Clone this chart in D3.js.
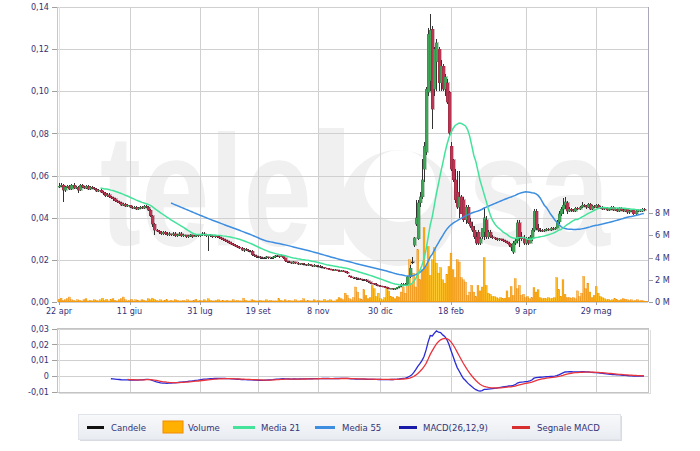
<!DOCTYPE html>
<html><head><meta charset="utf-8">
<script src="https://cdn.jsdelivr.net/npm/d3@7/dist/d3.min.js"></script>
<style>
body{margin:0;background:#fff;}
svg{display:block;font-family:"DejaVu Sans Condensed","DejaVu Sans",sans-serif;font-stretch:condensed;}
</style></head><body>
<svg id="chart" width="700" height="451"></svg>
<script>
// ---- data (session index based) ----
const dateLabels = ["22 apr","11 giu","31 lug","19 set","8 nov","30 dic","18 feb","9 apr","29 mag"];
const dateIndex  = [0,34,68,96,125,155,189,225,259];
const priceTicks = [0,0.02,0.04,0.06,0.08,0.10,0.12,0.14];
const volumeTicks = [0,2,4,6,8];
const macdTicks = [-0.01,0,0.01,0.02,0.03];
const legendLabels = ["Candele","Volume","Media 21","Media 55","MACD(26,12,9)","Segnale MACD"];

const open = [
.0545,.055,.0555,.053,.0545,.055,.0535,.0555,.054,.0545,
.053,.0555,.0545,.054,.055,.0535,.0545,.054,.0535,.0525,
.053,.052,.0515,.0505,.051,.050,.0495,.049,.048,.0475,
.047,.046,.0465,.0455,.046,.045,.0445,.045,.044,.0445,
.045,.0445,.0455,.045,.0435,.041,.037,.034,.0335,.033,
.0325,.033,.0325,.032,.0325,.032,.0325,.0315,.032,.0325,
.0315,.032,.031,.0315,.032,.031,.0315,.032,.0315,.032,
.0325,.032,.0315,.032,.0315,.031,.0315,.031,.0305,.030,
.0295,.029,.0285,.028,.0275,.027,.0265,.026,.0255,.0245,
.025,.0245,.024,.024,.0225,.022,.0215,.0215,.021,.021,
.021,.0215,.021,.021,.0215,.022,.022,.0215,.022,.021,
.0195,.019,.019,.0185,.019,.0185,.018,.0185,.018,.018,
.0175,.018,.0175,.017,.0175,.017,.017,.0165,.0165,.016,
.0158,.0155,.0152,.015,.0152,.0148,.0145,.0148,.0145,.0142,
.0125,.012,.0115,.0115,.011,.011,.0108,.0105,.0105,.010,
.0095,.009,.0088,.0085,.008,.0078,.0075,.0072,.007,.0065,
.0063,.0065,.006,.0065,.007,.0075,.0085,.008,.0085,.012,
.019,.027,.037,.030,.047,.050,.063,.071,.0995,.105,
.1295,.101,.114,.12,.104,.112,.101,.104,.0995,.074,
.0676,.058,.052,.045,.050,.0486,.039,.045,.038,.036,
.034,.031,.033,.028,.031,.033,.039,.031,.033,.031,
.0305,.030,.0295,.030,.0295,.029,.0285,.028,.027,.0235,
.028,.029,.0376,.031,.030,.028,.030,.028,.030,.034,
.043,.035,.034,.034,.0335,.034,.0345,.034,.035,.0345,
.035,.038,.042,.044,.046,.047,.043,.044,.0435,.043,
.0445,.044,.045,.046,.0455,.045,.0465,.044,.0455,.045,
.046,.0445,.045,.044,.0445,.0435,.044,.045,.0435,.044,
.043,.0445,.0435,.043,.044,.0425,.043,.0435,.042,.043,
.0435,.043,.044];
const high = [
.0565,.0565,.056,.055,.0555,.0555,.056,.0565,.055,.055,
.056,.056,.055,.0555,.0555,.055,.055,.0545,.054,.0535,
.0535,.0525,.052,.0515,.0515,.0505,.050,.0495,.0485,.048,
.0475,.047,.047,.0465,.046,.0455,.0455,.0455,.045,.0455,
.0455,.046,.046,.0455,.044,.0415,.0375,.0345,.034,.0335,
.0335,.0335,.033,.033,.0325,.033,.033,.0325,.033,.033,
.0325,.032,.032,.0325,.032,.032,.0325,.0325,.0325,.033,
.033,.0325,.0325,.0325,.032,.032,.032,.0315,.031,.0305,
.030,.0295,.029,.0285,.028,.0275,.027,.0265,.026,.0255,
.0255,.025,.0245,.0245,.023,.0225,.022,.022,.0215,.0215,
.022,.0215,.0215,.022,.0225,.0225,.022,.0225,.022,.021,
.0195,.0195,.019,.0195,.019,.019,.0185,.0185,.0185,.018,
.0185,.018,.0175,.018,.0175,.0175,.0175,.017,.0165,.0162,
.016,.0158,.0155,.0155,.0152,.015,.015,.015,.0147,.0145,
.013,.0122,.012,.0118,.0115,.0112,.011,.011,.0107,.0102,
.0097,.0092,.009,.0088,.0082,.008,.0078,.0075,.0072,.0068,
.0068,.0067,.0068,.0073,.0078,.0088,.0088,.009,.0125,.0175,
.0215,.031,.0486,.0486,.052,.068,.076,.102,.130,.1367,
.131,.121,.125,.121,.115,.113,.108,.106,.100,.076,
.068,.063,.062,.062,.051,.050,.046,.046,.040,.038,
.036,.033,.034,.031,.035,.0448,.041,.034,.034,.032,
.031,.0305,.0305,.030,.030,.0295,.029,.0285,.0275,.029,
.030,.039,.039,.033,.032,.031,.031,.032,.035,.044,
.044,.037,.035,.0345,.0345,.035,.035,.0355,.0355,.0355,
.039,.043,.045,.0495,.050,.048,.045,.0445,.044,.045,
.045,.0455,.0476,.0465,.046,.047,.047,.046,.046,.0465,
.0465,.0455,.0455,.045,.045,.0445,.0455,.0455,.0445,.0445,
.045,.045,.044,.0445,.0445,.0435,.044,.044,.0435,.044,
.044,.0445,.0445];
const low = [
.054,.0545,.0475,.052,.054,.053,.053,.0535,.0535,.0515,
.0525,.054,.0535,.0535,.053,.053,.0535,.053,.052,.052,
.0515,.051,.050,.050,.0495,.049,.048,.0475,.047,.0465,
.0455,.0455,.045,.045,.0445,.044,.044,.0435,.0435,.044,
.044,.044,.0445,.043,.0405,.0355,.032,.033,.0325,.032,
.032,.032,.0315,.0315,.0315,.0315,.031,.031,.0315,.031,
.031,.0305,.0305,.031,.0305,.031,.031,.031,.031,.0315,
.0315,.031,.024,.031,.0305,.0305,.0305,.030,.0295,.029,
.0285,.028,.0275,.027,.0265,.026,.0255,.025,.024,.0235,
.024,.0235,.0235,.022,.0215,.021,.021,.0205,.0205,.0205,
.0205,.0205,.0205,.0205,.021,.0215,.021,.0215,.0205,.019,
.0185,.0185,.018,.018,.018,.0175,.0175,.0175,.0175,.017,
.0172,.017,.0165,.0168,.0165,.0165,.016,.016,.0155,.0155,
.0152,.015,.0148,.0148,.0145,.0142,.0143,.0142,.014,.0135,
.0118,.0112,.011,.0106,.0105,.0104,.0102,.010,.0096,.0092,
.0087,.0085,.0082,.0077,.0075,.0072,.0069,.0066,.0062,.006,
.006,.0057,.0058,.0062,.0068,.0072,.0077,.0078,.0082,.0115,
.018,.026,.036,.0295,.045,.049,.057,.070,.098,.10,
.082,.098,.100,.100,.100,.10,.098,.094,.079,.062,
.057,.047,.044,.040,.042,.038,.037,.037,.035,.033,
.030,.027,.027,.027,.030,.0295,.030,.030,.0305,.030,
.0295,.029,.029,.029,.0285,.028,.0275,.026,.024,.023,
.027,.028,.026,.029,.027,.027,.027,.028,.029,.033,
.034,.033,.033,.033,.033,.0335,.0335,.0335,.034,.034,
.035,.037,.041,.042,.044,.042,.0425,.0425,.0425,.0425,
.0435,.0435,.0445,.045,.044,.0445,.0435,.0435,.0445,.0445,
.044,.044,.0435,.0435,.043,.043,.0435,.043,.043,.0425,
.0425,.043,.0425,.0425,.042,.042,.0425,.0415,.0415,.0425,
.0425,.0425,.043];
const close = [
.055,.0555,.053,.0545,.055,.0535,.0555,.054,.0545,.053,
.0555,.0545,.054,.055,.0535,.0545,.054,.0535,.0525,.053,
.052,.0515,.0505,.051,.050,.0495,.049,.048,.0475,.047,
.046,.0465,.0455,.046,.045,.0445,.045,.044,.0445,.045,
.0445,.0455,.045,.0435,.041,.037,.034,.0335,.033,.0325,
.033,.0325,.032,.0325,.032,.0325,.0315,.032,.0325,.0315,
.032,.031,.0315,.032,.031,.0315,.032,.0315,.032,.0325,
.032,.0315,.032,.0315,.031,.0315,.031,.0305,.030,.0295,
.029,.0285,.028,.0275,.027,.0265,.026,.0255,.0245,.025,
.0245,.024,.024,.0225,.022,.0215,.0215,.021,.021,.021,
.0215,.021,.021,.0215,.022,.022,.0215,.022,.021,.0195,
.019,.019,.0185,.019,.0185,.018,.0185,.018,.018,.0175,
.018,.0175,.017,.0175,.017,.017,.0165,.0165,.016,.0158,
.0155,.0152,.015,.0152,.0148,.0145,.0148,.0145,.0142,.014,
.012,.0115,.0115,.011,.011,.0108,.0105,.0105,.010,.0095,
.009,.0088,.0085,.008,.0078,.0075,.0072,.007,.0065,.0063,
.0065,.006,.0065,.007,.0075,.0085,.008,.0085,.012,.016,
.019,.0305,.040,.047,.050,.058,.074,.101,.127,.129,
.0914,.12,.123,.104,.112,.101,.107,.0947,.080,.063,
.058,.0486,.045,.050,.042,.039,.045,.0376,.036,.034,
.031,.028,.028,.030,.035,.040,.031,.033,.031,.0305,
.030,.0295,.030,.0295,.029,.0285,.028,.027,.026,.028,
.029,.0376,.031,.030,.028,.030,.028,.031,.034,.043,
.035,.034,.034,.0335,.034,.0345,.034,.035,.0345,.035,
.038,.042,.044,.046,.0475,.043,.044,.0435,.043,.0445,
.044,.045,.046,.0455,.045,.0465,.044,.0455,.045,.046,
.0445,.045,.044,.0445,.0435,.044,.045,.0435,.044,.043,
.0445,.0435,.043,.044,.0425,.043,.0435,.042,.043,.0435,
.043,.044,.0435];
// volume in millions
const volume = [
.25,.35,.15,.2,.3,.45,.2,.15,.1,.2,
.15,.1,.2,.3,.1,.15,.1,.2,.15,.1,
.2,.35,.15,.25,.1,.2,.3,.15,.1,.2,
.3,.45,.2,.1,.15,.25,.1,.2,.15,.1,
.2,.15,.1,.3,.2,.35,.25,.15,.1,.2,
.1,.15,.2,.1,.15,.1,.2,.15,.1,.1,
.15,.1,.2,.1,.1,.15,.25,.1,.15,.1,
.2,.1,.3,.15,.1,.1,.15,.2,.1,.15,
.1,.15,.1,.1,.2,.1,.15,.1,.1,.35,
.15,.1,.1,.2,.15,.1,.1,.15,.1,.1,
.2,.1,.15,.1,.1,.1,.3,.15,.1,.2,
.1,.15,.1,.1,.2,.1,.1,.15,.3,.1,
.15,.1,.1,.2,.1,.15,.1,.1,.25,.1,
.15,.2,.1,.1,.2,.4,.3,.2,.8,.6,
.3,.2,.4,1.35,.9,.3,.2,1.1,.6,.3,
.4,1.5,1.2,.5,.8,.3,.2,.4,1.3,1.0,
.5,.45,.3,.5,.45,.9,1.35,.8,2.1,3.8,
1.6,2.6,1.35,4.7,2.0,2.9,6.7,3.2,5.0,2.4,
3.8,4.9,3.5,2.6,3.1,2.0,1.7,2.5,3.2,4.4,
2.9,2.2,3.8,3.6,2.2,2.0,1.8,.6,.9,1.5,
.9,.5,1.5,1.0,1.35,4.0,1.5,.8,.7,.5,
.5,.4,.3,.4,.3,.35,1.0,.4,1.4,.6,
2.1,1.2,1.5,.6,.7,.4,.5,.3,.4,1.3,
.9,1.1,.4,.3,.35,.3,.4,.3,.35,.4,
2.2,1.1,.5,2.0,.7,.4,.4,.35,.4,.3,
1.0,.5,.8,2.3,1.2,1.7,.9,.4,.6,1.4,
.8,.5,.4,.3,.2,.25,.15,.2,.3,.2,
.15,.2,.3,.25,.2,.15,.2,.1,.15,.2,
.1,.15,.1];

// ---- indicators derived from close ----
function sma(arr,n){return arr.map((d,i)=> i<n-1?null:d3.mean(arr.slice(i-n+1,i+1)));}
function ema(arr,n,start){
  const out=arr.map(()=>null); const k=2/(n+1);
  const s=start+n-1; if(s>=arr.length) return out;
  out[s]=d3.mean(arr.slice(start,s+1));
  for(let i=s+1;i<arr.length;i++) out[i]=arr[i]*k+out[i-1]*(1-k);
  return out;
}
const ma21=sma(close,21), ma55=sma(close,55);
const e12=ema(close,12,0), e26=ema(close,26,0);
const macd=close.map((d,i)=> e26[i]==null?null:e12[i]-e26[i]);
const sigRaw=ema(macd.slice(25),9,0);
const signal=close.map((d,i)=> i<25?null:sigRaw[i-25]);

// ---- drawing ----
const svg=d3.select("#chart");
const txt="#333377";
const N=close.length, idx=d3.range(N);
const x=d3.scaleLinear().domain([-0.5,284]).range([58,648]);
const yP=d3.scaleLinear().domain([0,0.14]).range([302,7]);
const yV=d3.scaleLinear().domain([0,8]).range([302,213]);
const yM=d3.scaleLinear().domain([-0.01,0.03]).range([392,328.5]);
const X=i=>Math.round(x(i));

const defs=svg.append("defs");
const vg=defs.append("linearGradient").attr("id","volGrad").attr("x1",0).attr("x2",1).attr("y1",0).attr("y2",0);
vg.append("stop").attr("offset","0%").attr("stop-color","#f08c00");
vg.append("stop").attr("offset","50%").attr("stop-color","#ffcc30");
vg.append("stop").attr("offset","100%").attr("stop-color","#f08c00");
const lgG=defs.append("linearGradient").attr("id","legGrad").attr("x1",0).attr("x2",0).attr("y1",0).attr("y2",1);
lgG.append("stop").attr("offset","0%").attr("stop-color","#f8f9fb");
lgG.append("stop").attr("offset","100%").attr("stop-color","#e8ecf1");
defs.append("clipPath").attr("id","mainClip").append("rect").attr("x",58).attr("y",7).attr("width",590).attr("height",295);
defs.append("clipPath").attr("id","macdClip").append("rect").attr("x",58).attr("y",328).attr("width",590).attr("height",64);

// watermark
const wm=svg.append("g").attr("fill","#f0f0f0").attr("font-family","'Liberation Sans',Arial,sans-serif").attr("font-weight","bold");
wm.append("text").attr("x",100).attr("y",245).attr("font-size",158).attr("textLength",212).attr("lengthAdjust","spacingAndGlyphs").text("tele");
wm.append("path").attr("d","M318,128 h26 v60 a58,58 0 1 1 0,40 v17 h-26 z M400,150 a36,36 0 1 0 0.1,0 z").attr("fill-rule","evenodd");
wm.append("text").attr("x",468).attr("y",245).attr("font-size",158).attr("textLength",142).attr("lengthAdjust","spacingAndGlyphs").text("sa");

// grid
const grid=svg.append("g").attr("stroke","#d0d0d0").attr("shape-rendering","crispEdges");
grid.selectAll(".hp").data(priceTicks).join("line").attr("x1",58).attr("x2",648).attr("y1",d=>Math.round(yP(d))+0.5).attr("y2",d=>Math.round(yP(d))+0.5);
grid.selectAll(".vp").data(dateIndex.slice(1)).join("line").attr("class","vp").attr("x1",d=>X(d)+0.5).attr("x2",d=>X(d)+0.5).attr("y1",7).attr("y2",302);
grid.selectAll(".hm").data(macdTicks).join("line").attr("class","hm").attr("x1",58).attr("x2",648).attr("y1",d=>Math.round(yM(d))+0.5).attr("y2",d=>Math.round(yM(d))+0.5);
grid.selectAll(".vm").data(dateIndex.slice(1)).join("line").attr("class","vm").attr("x1",d=>X(d)+0.5).attr("x2",d=>X(d)+0.5).attr("y1",328).attr("y2",392);

// frames
const fr=svg.append("g").attr("fill","none").attr("shape-rendering","crispEdges");
fr.append("line").attr("x1",57.5).attr("x2",57.5).attr("y1",7).attr("y2",302).attr("stroke","#c8c8c8");
fr.append("line").attr("x1",59.5).attr("x2",59.5).attr("y1",7).attr("y2",302).attr("stroke","#e2e2e2");
fr.append("line").attr("x1",648.5).attr("x2",648.5).attr("y1",7).attr("y2",302).attr("stroke","#a8a8b8");
fr.append("rect").attr("x",57.5).attr("y",328.5).attr("width",591).attr("height",63.5).attr("stroke","#c4c4c4");
fr.append("line").attr("x1",59.5).attr("x2",59.5).attr("y1",329).attr("y2",392).attr("stroke","#e2e2e2");
fr.append("line").attr("x1",650.5).attr("x2",650.5).attr("y1",330).attr("y2",394).attr("stroke","#dedede");
fr.append("line").attr("x1",59).attr("x2",651).attr("y1",393.5).attr("y2",393.5).attr("stroke","#dedede");

// volume bars
svg.append("g").attr("clip-path","url(#mainClip)").selectAll("rect").data(idx).join("rect")
  .attr("x",i=>x(i)-0.95).attr("width",1.9)
  .attr("y",i=>yV(volume[i])).attr("height",i=>302-yV(volume[i]))
  .attr("fill","url(#volGrad)").attr("stroke","#ee8a00").attr("stroke-width",0.3);
svg.append("line").attr("x1",58).attr("x2",648).attr("y1",301.5).attr("y2",301.5).attr("stroke","#f39a10").attr("stroke-width",1.2);

// candles
const cg=svg.append("g").attr("shape-rendering","crispEdges");
cg.selectAll("line").data(idx).join("line")
  .attr("x1",i=>X(i)+0.5).attr("x2",i=>X(i)+0.5)
  .attr("y1",i=>yP(high[i])).attr("y2",i=>Math.max(yP(low[i]),yP(high[i])+1))
  .attr("stroke","#333");
cg.selectAll("rect").data(idx).join("rect")
  .attr("x",i=>X(i)-1).attr("width",3)
  .attr("y",i=>yP(Math.max(open[i],close[i])))
  .attr("height",i=>Math.max(1,Math.abs(yP(open[i])-yP(close[i]))))
  .attr("fill",i=>close[i]>open[i]?"#3fa556":close[i]<open[i]?"#bd3452":"#333")
  .attr("stroke",i=>close[i]>open[i]?"#2d6a3c":close[i]<open[i]?"#6e2234":"#333").attr("stroke-width",0.3);

// moving averages
const lineP=arr=>d3.line().defined(i=>arr[i]!=null).x(i=>x(i)).y(i=>yP(arr[i]))(idx);
const mg=svg.append("g").attr("fill","none").attr("clip-path","url(#mainClip)");
mg.append("path").attr("d",lineP(ma55)).attr("stroke","#3d8ee0").attr("stroke-width",1.5);
mg.append("path").attr("d",lineP(ma21)).attr("stroke","#44e39b").attr("stroke-width",1.5);

// MACD
const lineM=arr=>d3.line().defined(i=>arr[i]!=null).x(i=>x(i)).y(i=>yM(arr[i]))(idx);
const macdG=svg.append("g").attr("fill","none").attr("clip-path","url(#macdClip)");
macdG.append("path").attr("d",lineM(macd)).attr("stroke","#2b2bd6").attr("stroke-width",1.3);
macdG.append("path").attr("d",lineM(signal)).attr("stroke","#e8343c").attr("stroke-width",1.3);

// axes
const fmt=d=>d3.format(".2f")(d).replace(".",",").replace("\u2212","-");
const ax=svg.append("g").attr("font-size",9).attr("fill",txt);
const tk=svg.append("g").attr("stroke","#a0a0a0").attr("shape-rendering","crispEdges");
ax.selectAll(".lp").data(priceTicks).join("text").attr("class","lp").attr("x",49).attr("y",d=>yP(d)).attr("dy","0.35em").attr("text-anchor","end").text(fmt);
tk.selectAll(".tp").data(priceTicks).join("line").attr("class","tp").attr("x1",52).attr("x2",57).attr("y1",d=>Math.round(yP(d))+0.5).attr("y2",d=>Math.round(yP(d))+0.5);
ax.selectAll(".lm").data(macdTicks).join("text").attr("class","lm").attr("x",49).attr("y",d=>yM(d)).attr("dy","0.35em").attr("text-anchor","end").text(d=>d===0?"0":fmt(d));
tk.selectAll(".tm").data(macdTicks).join("line").attr("class","tm").attr("x1",52).attr("x2",57).attr("y1",d=>Math.round(yM(d))+0.5).attr("y2",d=>Math.round(yM(d))+0.5);
ax.selectAll(".lv").data(volumeTicks).join("text").attr("class","lv").attr("x",655).attr("y",d=>yV(d)).attr("dy","0.35em").text(d=>d+" M");
tk.selectAll(".tv").data(volumeTicks).join("line").attr("class","tv").attr("x1",649).attr("x2",653).attr("y1",d=>Math.round(yV(d))+0.5).attr("y2",d=>Math.round(yV(d))+0.5);
ax.selectAll(".ld").data(dateIndex).join("text").attr("class","ld").attr("x",d=>x(d)).attr("y",314).attr("text-anchor","middle").text((d,i)=>dateLabels[i]);
tk.selectAll(".td").data(dateIndex).join("line").attr("class","td").attr("x1",d=>X(d)+0.5).attr("x2",d=>X(d)+0.5).attr("y1",302).attr("y2",305);

// legend
const lg=svg.append("g");
lg.append("rect").attr("x",80).attr("y",416).attr("width",542).attr("height",25).attr("fill","#d8dce2");
lg.append("rect").attr("x",78.5).attr("y",414.5).attr("width",542).attr("height",25).attr("fill","url(#legGrad)").attr("stroke","#e0e4ea");
const symX=[87,163,233,315,399,512], symW=[17,20,22,20,18,18], txtX=[111,188,261,342,423,537];
const symC=["#111111",null,"#44e39b","#3d8ee0","#1a1aa8","#d83030"];
legendLabels.forEach((lab,i)=>{
  if(i===1){
    lg.append("rect").attr("x",symX[i]).attr("y",421).attr("width",symW[i]).attr("height",12).attr("fill","#ffb000").attr("stroke","#f08c00");
  } else {
    lg.append("line").attr("x1",symX[i]).attr("x2",symX[i]+symW[i]).attr("y1",427.5).attr("y2",427.5).attr("stroke",symC[i]).attr("stroke-width",3);
  }
  lg.append("text").attr("x",txtX[i]).attr("y",431).attr("font-size",9.5).attr("fill",txt).text(lab);
});
</script>
</body></html>
